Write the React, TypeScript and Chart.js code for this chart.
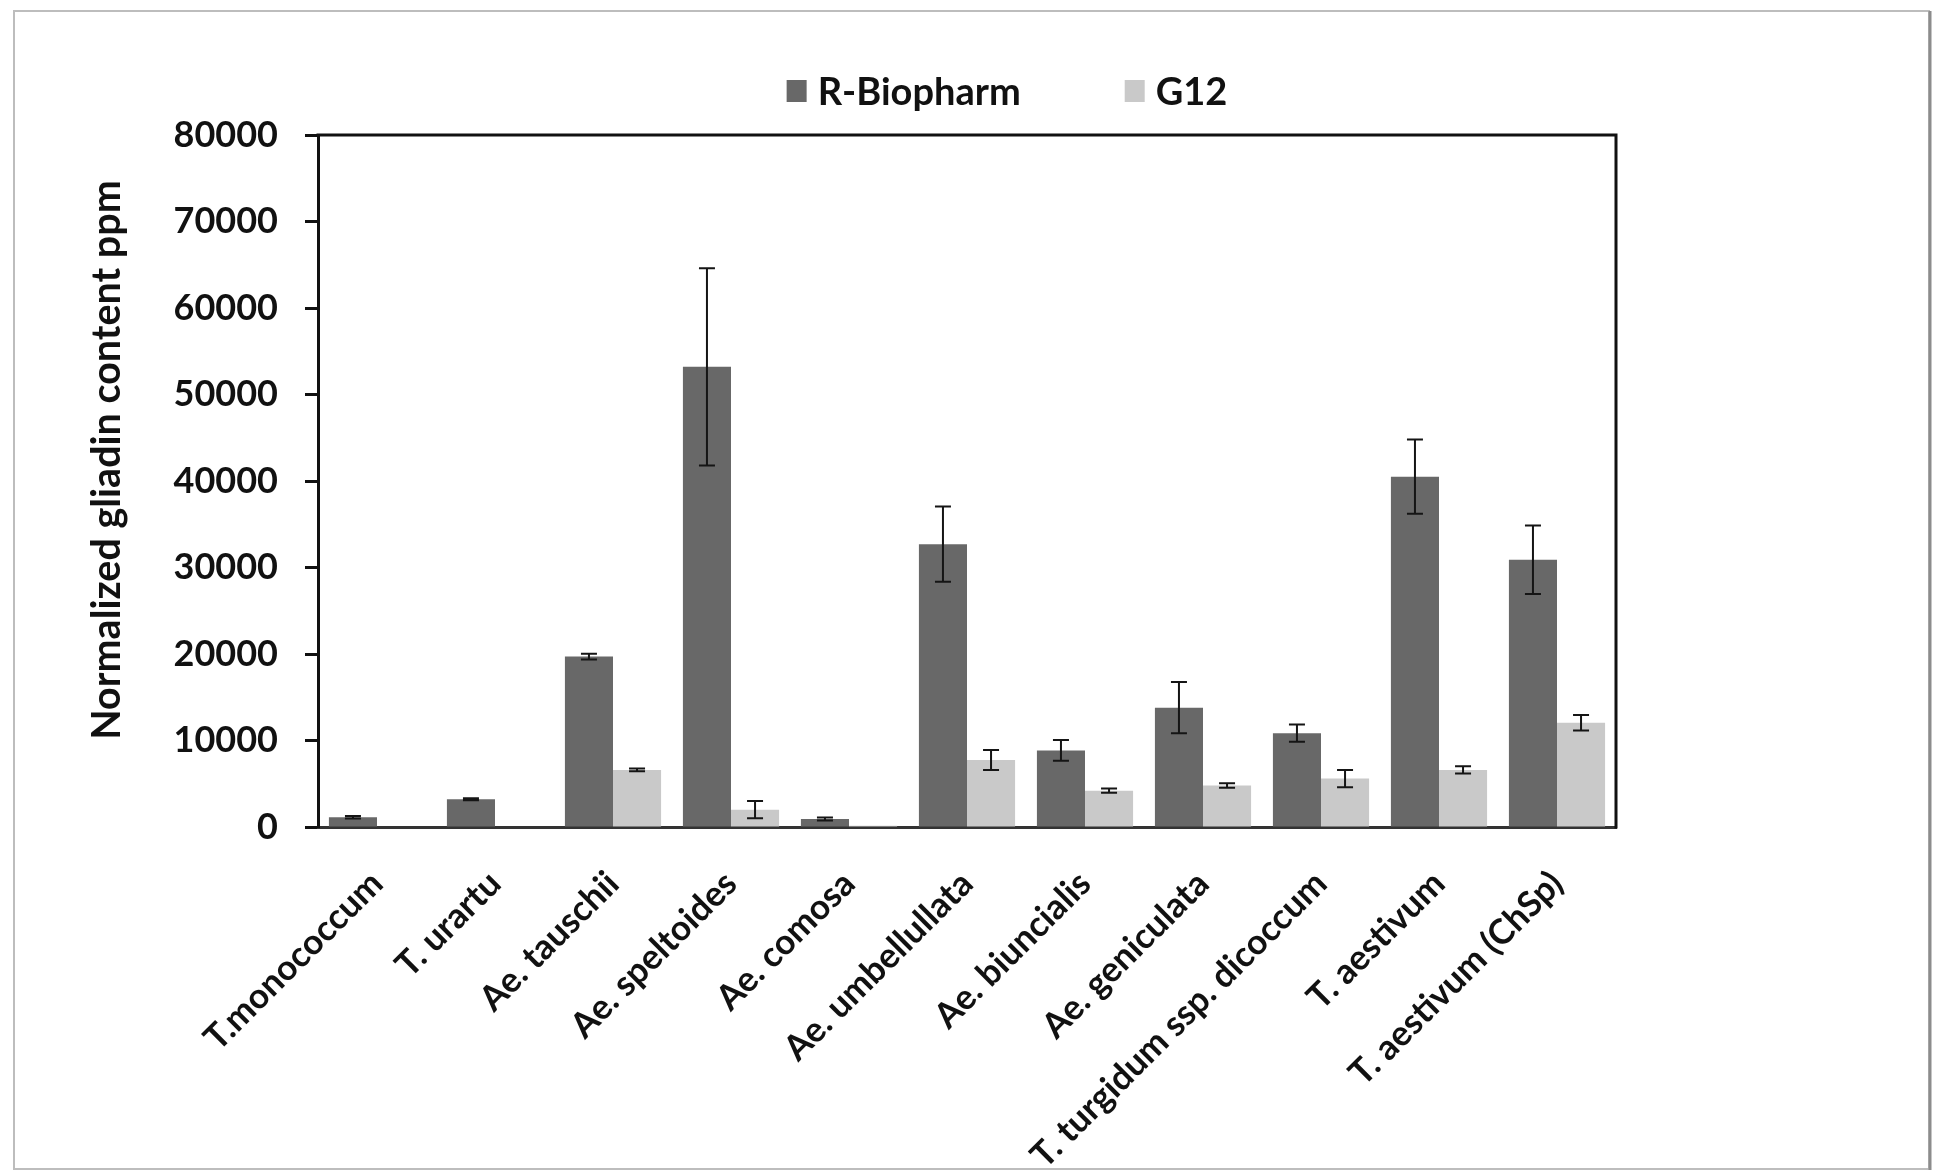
import React, { useEffect, useRef } from "react";
import { Chart, registerables } from "chart.js";

Chart.register(...registerables);

const categories = [
  "T.monococcum",
  "T. urartu",
  "Ae. tauschii",
  "Ae. speltoides",
  "Ae. comosa",
  "Ae. umbellullata",
  "Ae. biuncialis",
  "Ae. geniculata",
  "T. turgidum ssp. dicoccum",
  "T. aestivum",
  "T. aestivum (ChSp)",
];

const seriesNames = ["R-Biopharm", "G12"];

const rBiopharm = [1120, 3200, 19700, 53200, 930, 32700, 8850, 13800, 10850, 40500, 30900];
const rBiopharmErr = [150, 120, 330, 11400, 170, 4350, 1200, 2950, 1000, 4300, 3950];
const g12 = [0, 0, 6600, 2000, 150, 7750, 4200, 4800, 5600, 6600, 12050];
const g12Err = [0, 0, 150, 1000, 0, 1150, 250, 250, 1000, 420, 900];

const yTicks = [0, 10000, 20000, 30000, 40000, 50000, 60000, 70000, 80000];
const yTitle = "Normalized gliadin content ppm";

const FONT = "Lato, 'Open Sans', 'DejaVu Sans', sans-serif";

const errorArrays = [rBiopharmErr, g12Err];

const framePlugin = {
  id: "frame",
  beforeDraw(chart: any) {
    const ctx = chart.ctx;
    ctx.save();
    ctx.fillStyle = "#ffffff";
    ctx.fillRect(0, 0, chart.width, chart.height);
    ctx.strokeStyle = "#bdbdbd";
    ctx.lineWidth = 2;
    ctx.strokeRect(14, 11, 1915, 1158);
    ctx.strokeStyle = "#8c8c8c";
    ctx.lineWidth = 3;
    ctx.beginPath();
    ctx.moveTo(1930, 11);
    ctx.lineTo(1930, 1170);
    ctx.stroke();
    ctx.restore();
  },
  afterDraw(chart: any) {
    const { ctx, chartArea } = chart;
    ctx.save();
    ctx.strokeStyle = "#111111";
    ctx.lineWidth = 3;
    ctx.beginPath();
    ctx.moveTo(chartArea.left - 1.5, chartArea.top);
    ctx.lineTo(chartArea.right, chartArea.top);
    ctx.lineTo(chartArea.right, chartArea.bottom + 1.5);
    ctx.stroke();
    ctx.restore();
  },
};

const yTitlePlugin = {
  id: "yTitle",
  afterDraw(chart: any) {
    const ctx = chart.ctx;
    ctx.save();
    ctx.translate(107, 460);
    ctx.rotate(-Math.PI / 2);
    ctx.font = `bold 39.5px ${FONT}`;
    ctx.fillStyle = "#111111";
    ctx.textAlign = "center";
    ctx.textBaseline = "middle";
    ctx.fillText(yTitle, 0, 0);
    ctx.restore();
  },
};

const errorBarPlugin = {
  id: "errorBars",
  afterDatasetsDraw(chart: any) {
    const ctx = chart.ctx;
    const yScale = chart.scales.y;
    ctx.save();
    ctx.strokeStyle = "#151515";
    ctx.lineWidth = 2;
    chart.data.datasets.forEach((ds: any, di: number) => {
      const meta = chart.getDatasetMeta(di);
      const errs = errorArrays[di];
      meta.data.forEach((bar: any, i: number) => {
        const e = errs[i];
        if (!e) return;
        const v = ds.data[i];
        const yTop = yScale.getPixelForValue(v + e);
        const yBot = yScale.getPixelForValue(v - e);
        const x = bar.x;
        const cap = 8;
        ctx.beginPath();
        ctx.moveTo(x, yTop);
        ctx.lineTo(x, yBot);
        ctx.moveTo(x - cap, yTop);
        ctx.lineTo(x + cap, yTop);
        ctx.moveTo(x - cap, yBot);
        ctx.lineTo(x + cap, yBot);
        ctx.stroke();
      });
    });
    ctx.restore();
  },
};

const legendPlugin = {
  id: "customLegend",
  afterDraw(chart: any) {
    const ctx = chart.ctx;
    const items = chart.data.datasets.map((d: any) => ({
      label: d.label as string,
      color: d.backgroundColor as string,
    }));
    ctx.save();
    ctx.font = `bold 38px ${FONT}`;
    ctx.textBaseline = "middle";
    ctx.textAlign = "left";
    const boxW = 20;
    const boxH = 22;
    const gap = 11;
    const itemGap = 104;
    const widths = items.map((it: any) => boxW + gap + ctx.measureText(it.label).width);
    const total = widths.reduce((a: number, b: number) => a + b, 0) + itemGap * (items.length - 1);
    let x = 1007 - total / 2;
    const cy = 91;
    items.forEach((it: any, i: number) => {
      ctx.fillStyle = it.color;
      ctx.fillRect(x, cy - boxH / 2, boxW, boxH);
      ctx.fillStyle = "#111111";
      ctx.fillText(it.label, x + boxW + gap, cy + 2);
      x += widths[i] + itemGap;
    });
    ctx.restore();
  },
};

export default function App() {
  const canvasRef = useRef<HTMLCanvasElement | null>(null);

  useEffect(() => {
    let chart: Chart | null = null;
    let cancelled = false;
    const make = () => {
      if (cancelled || !canvasRef.current) return;
      chart = new Chart(canvasRef.current, {
        type: "bar",
        data: {
          labels: categories,
          datasets: [
            {
              label: seriesNames[0],
              data: rBiopharm,
              backgroundColor: "#686868",
              borderWidth: 0,
              categoryPercentage: 0.815,
              barPercentage: 1.0,
            },
            {
              label: seriesNames[1],
              data: g12,
              backgroundColor: "#c9c9c9",
              borderWidth: 0,
              categoryPercentage: 0.815,
              barPercentage: 1.0,
            },
          ],
        },
        options: {
          responsive: false,
          animation: false,
          devicePixelRatio: 1,
          layout: { padding: { left: 80, top: 135, right: 317, bottom: 0 } },
          plugins: {
            legend: { display: false },
            tooltip: { enabled: false },
            title: { display: false },
          },
          scales: {
            x: {
              type: "category",
              grid: { display: false, drawTicks: false },
              border: { display: true, color: "#333333", width: 3 },
              ticks: {
                color: "#111111",
                font: { family: FONT, size: 35, weight: "bold", lineHeight: 0.72 },
                maxRotation: 45,
                minRotation: 45,
                autoSkip: false,
                padding: 42,
              },
              afterFit: (scale: any) => {
                scale.height = 348;
              },
            },
            y: {
              type: "linear",
              min: 0,
              max: 80000,
              afterBuildTicks: (scale: any) => {
                scale.ticks = yTicks.map((v) => ({ value: v }));
              },
              grid: {
                display: true,
                drawOnChartArea: false,
                drawTicks: true,
                tickLength: 13,
                tickWidth: 3,
                tickColor: "#111111",
              },
              border: { display: true, color: "#111111", width: 3 },
              ticks: {
                color: "#111111",
                font: { family: FONT, size: 36, weight: "bold" },
                padding: 27,
                callback: (v: any) => String(v),
              },
              title: { display: false },
              afterFit: (scale: any) => {
                scale.width = 238;
              },
            },
          },
        },
        plugins: [framePlugin, errorBarPlugin, legendPlugin, yTitlePlugin],
      });
    };
    const fontsReady = (document as any).fonts
      ? Promise.all([
          (document as any).fonts.load(`bold 38px Lato`),
          (document as any).fonts.load(`bold 35px Lato`),
        ]).catch(() => null)
      : Promise.resolve(null);
    fontsReady.then(make);
    return () => {
      cancelled = true;
      if (chart) chart.destroy();
    };
  }, []);

  return (
    <canvas
      ref={canvasRef}
      width={1933}
      height={1175}
      style={{ position: "fixed", left: 0, top: 0, width: 1933, height: 1175, display: "block" }}
    />
  );
}
